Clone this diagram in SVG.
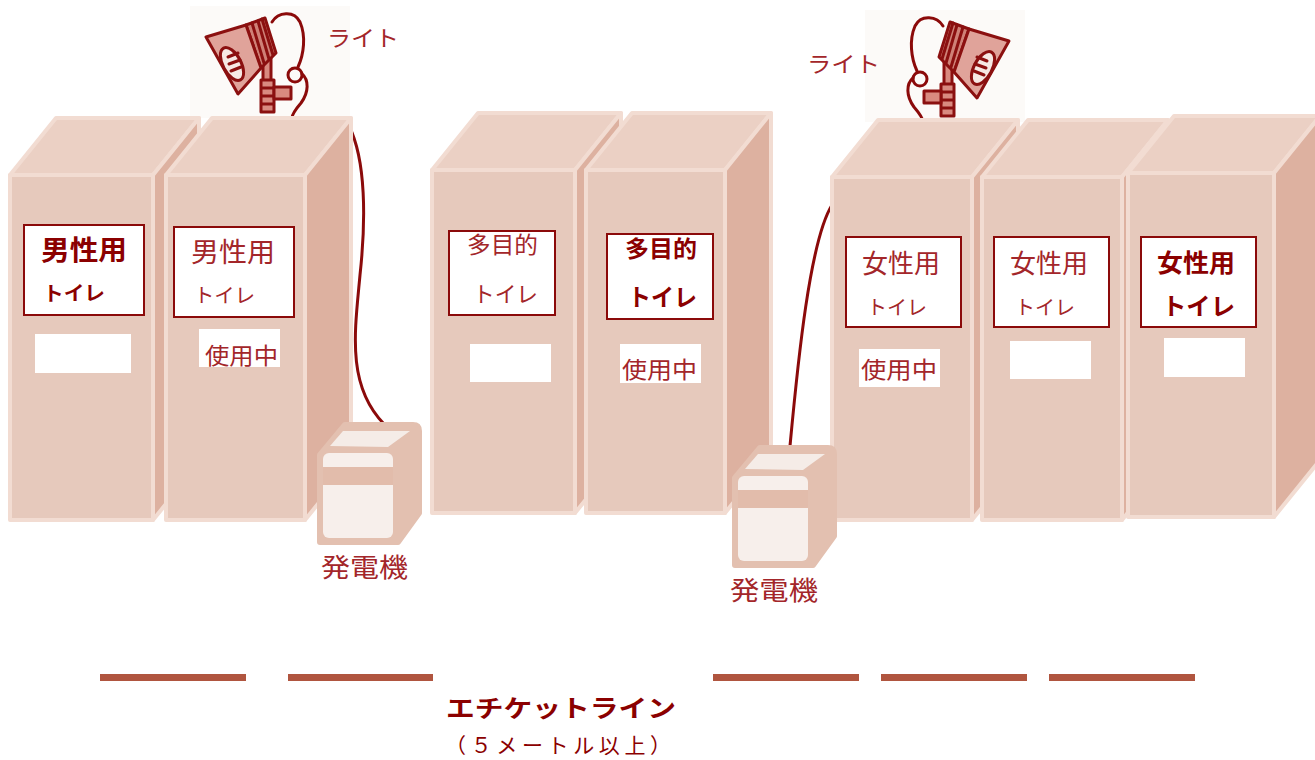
<svg xmlns="http://www.w3.org/2000/svg" width="1315" height="760" viewBox="0 0 1315 760">
  <style>
    .face { stroke: #f2dcd2; stroke-width: 4; stroke-linejoin: round; }
    .front { fill: #e6c9bc; }
    .top { fill: #ebd0c4; }
    .side { fill: #ddb1a0; }
    .sign { fill: #ffffff; stroke: #8b0a0a; stroke-width: 2; }
    .blank { fill: #ffffff; }
    .jp { font-family: "Noto Sans CJK JP", "Noto Sans", sans-serif; fill: #8b0000; }
    .thin { fill: #a3262a; font-weight: 400; }
    .dark { fill: #8b0000; font-weight: 400; }
    .bold { font-weight: 700; }
    .cable { fill: none; stroke: #8b0a0a; stroke-width: 3; stroke-linecap: round; }
    .ink { stroke: #8b1010; stroke-width: 3; stroke-linejoin: round; stroke-linecap: round; }
    .etq { fill: #b0553f; }
    .genbody { fill: #e3c0b0; stroke: #e3c0b0; stroke-width: 6; stroke-linejoin: round; }
  </style>
  <defs>
    <!-- desk lamp with clamp and cord -->
    <g id="lamp">
      <rect x="190" y="6" width="160" height="112" fill="#fcfaf8"/>
      <path class="cable" d="M 272 22 C 278 12 294 10 300 22 C 306 36 304 54 298 67"/>
      <circle cx="295" cy="75" r="7" class="cable"/>
      <path class="cable" d="M 302 74 C 309 80 309 92 301 103 C 295 110 292 114 292 118"/>
      <!-- stem -->
      <rect class="ink" x="263" y="58" width="8" height="24" fill="#d98a80"/>
      <rect class="ink" x="261" y="80" width="13" height="32" fill="#d98a80"/>
      <path class="ink" d="M 262 88 L 273 88 M 262 96 L 273 96 M 262 104 L 273 104" fill="none"/>
      <!-- clamp -->
      <rect class="ink" x="274" y="87" width="17" height="12" fill="#d98a80"/>
      <!-- shade back with ribs -->
      <polygon class="ink" points="246,25 265,18 276,53 261,68" fill="#cf8177"/>
      <path class="ink" d="M 252 23 L 264 63 M 258 21 L 269 59 M 262 19 L 273 55" fill="none" stroke-width="2"/>
      <!-- shade -->
      <polygon class="ink" points="206,37 246,25 261,68 238,94" fill="#e0a39a"/>
      <!-- bulb -->
      <ellipse class="ink" cx="232" cy="64" rx="9" ry="18" transform="rotate(-28 232 64)" fill="#f6e8e3"/>
      <path class="ink" d="M 228 57 L 238 53 M 229 64 L 240 60 M 231 71 L 241 67" fill="none" stroke-width="2"/>
    </g>
    <!-- portable generator -->
    <g id="generator">
      <path class="genbody" d="M 320 455 L 345 425 L 413 425 Q 419 425 419 431 L 419 513 L 398 542 L 320 542 Z"/>
      <polygon points="330,446 343,431 410,431 388,447" fill="#f5ece7"/>
      <rect x="323" y="453" width="70" height="85" rx="6" fill="#f7efeb"/>
      <rect x="323" y="467" width="70" height="18" fill="#e2bcab"/>
    </g>
  </defs>

  <!-- lights -->
  <g id="light-1">
    <use href="#lamp"/>
    <text class="jp thin" x="327" y="46" font-size="22" textLength="72" lengthAdjust="spacingAndGlyphs">ライト</text>
  </g>
  <g id="light-2">
    <use href="#lamp" transform="translate(1215 4) scale(-1 1)"/>
    <text class="jp thin" x="807" y="72" font-size="22" textLength="73" lengthAdjust="spacingAndGlyphs">ライト</text>
  </g>

  <!-- power cables from generators to lights -->
  <g id="connectors">
    <path class="cable" d="M 349 126 C 366 160 366 220 360 275 C 355 330 346 385 384 424"/>
    <path class="cable" d="M 790 446 C 798 360 810 240 832 205"/>
  </g>

  <!-- toilet booths -->
  <g id="booth-male-1">
    <polygon class="face top" points="10,175 56,118 199,118 153,175"/>
    <polygon class="face side" points="153,175 199,118 199,463 153,520"/>
    <rect class="face front" x="10" y="175" width="143" height="345"/>
    <rect class="sign" x="24" y="225" width="120" height="90"/>
    <text class="jp bold" x="41" y="260" font-size="27" textLength="86" lengthAdjust="spacingAndGlyphs">男性用</text>
    <text class="jp bold" x="43" y="301" font-size="20" textLength="62" lengthAdjust="spacingAndGlyphs">トイレ</text>
    <rect class="blank" x="35" y="334" width="96" height="39"/>
  </g>
  <g id="booth-male-2">
    <polygon class="face top" points="166,175 212,118 351,118 305,175"/>
    <polygon class="face side" points="305,175 351,118 351,463 305,520"/>
    <rect class="face front" x="166" y="175" width="139" height="345"/>
    <rect class="sign" x="174" y="227" width="120" height="90"/>
    <text class="jp thin" x="191" y="262" font-size="27" textLength="84" lengthAdjust="spacingAndGlyphs">男性用</text>
    <text class="jp thin" x="194" y="303" font-size="20" textLength="61" lengthAdjust="spacingAndGlyphs">トイレ</text>
    <rect class="blank" x="199" y="329" width="81" height="38"/>
    <text class="jp thin" x="205" y="364" font-size="23" textLength="73" lengthAdjust="spacingAndGlyphs">使用中</text>
  </g>
  <g id="booth-multi-1">
    <polygon class="face top" points="432,170 478,113 621,113 575,170"/>
    <polygon class="face side" points="575,170 621,113 621,456 575,513"/>
    <rect class="face front" x="432" y="170" width="143" height="343"/>
    <rect class="sign" x="449" y="231" width="106" height="84"/>
    <text class="jp thin" x="467" y="253" font-size="23" textLength="71" lengthAdjust="spacingAndGlyphs">多目的</text>
    <text class="jp thin" x="473" y="302" font-size="22" textLength="65" lengthAdjust="spacingAndGlyphs">トイレ</text>
    <rect class="blank" x="470" y="344" width="81" height="38"/>
  </g>
  <g id="booth-multi-2">
    <polygon class="face top" points="586,170 632,113 771,113 725,170"/>
    <polygon class="face side" points="725,170 771,113 771,456 725,513"/>
    <rect class="face front" x="586" y="170" width="139" height="343"/>
    <rect class="sign" x="607" y="234" width="106" height="85"/>
    <text class="jp bold" x="625" y="257" font-size="23" textLength="72" lengthAdjust="spacingAndGlyphs">多目的</text>
    <text class="jp bold" x="628" y="306" font-size="24" textLength="69" lengthAdjust="spacingAndGlyphs">トイレ</text>
    <rect class="blank" x="620" y="344" width="81" height="39"/>
    <text class="jp thin" x="622" y="378" font-size="23" textLength="75" lengthAdjust="spacingAndGlyphs">使用中</text>
  </g>
  <g id="booth-female-1">
    <polygon class="face top" points="832,177 878,120 1018,120 972,177"/>
    <polygon class="face side" points="972,177 1018,120 1018,463 972,520"/>
    <rect class="face front" x="832" y="177" width="140" height="343"/>
    <rect class="sign" x="846" y="237" width="115" height="90"/>
    <text class="jp thin" x="862" y="273" font-size="26" textLength="78" lengthAdjust="spacingAndGlyphs">女性用</text>
    <text class="jp thin" x="867" y="315" font-size="20" textLength="60" lengthAdjust="spacingAndGlyphs">トイレ</text>
    <rect class="blank" x="859" y="349" width="81" height="38"/>
    <text class="jp thin" x="861" y="378" font-size="23" textLength="76" lengthAdjust="spacingAndGlyphs">使用中</text>
  </g>
  <g id="booth-female-2">
    <polygon class="face top" points="982,177 1028,120 1168,120 1122,177"/>
    <polygon class="face side" points="1122,177 1168,120 1168,463 1122,520"/>
    <rect class="face front" x="982" y="177" width="140" height="343"/>
    <rect class="sign" x="994" y="237" width="115" height="90"/>
    <text class="jp thin" x="1010" y="273" font-size="26" textLength="78" lengthAdjust="spacingAndGlyphs">女性用</text>
    <text class="jp thin" x="1015" y="315" font-size="20" textLength="60" lengthAdjust="spacingAndGlyphs">トイレ</text>
    <rect class="blank" x="1010" y="341" width="81" height="38"/>
  </g>
  <g id="booth-female-3">
    <polygon class="face top" points="1128,173 1174,116 1320,116 1274,173"/>
    <polygon class="face side" points="1274,173 1320,116 1320,460 1274,517"/>
    <rect class="face front" x="1128" y="173" width="146" height="344"/>
    <rect class="sign" x="1141" y="237" width="115" height="90"/>
    <text class="jp bold" x="1157" y="272" font-size="25" textLength="78" lengthAdjust="spacingAndGlyphs">女性用</text>
    <text class="jp bold" x="1162" y="315" font-size="24" textLength="73" lengthAdjust="spacingAndGlyphs">トイレ</text>
    <rect class="blank" x="1164" y="338" width="81" height="39"/>
  </g>

  <!-- generators -->
  <g id="generator-1">
    <use href="#generator"/>
    <text class="jp thin" x="321" y="577" font-size="26" textLength="87" lengthAdjust="spacingAndGlyphs">発電機</text>
  </g>
  <g id="generator-2">
    <use href="#generator" transform="translate(415 23)"/>
    <text class="jp thin" x="730" y="600" font-size="26" textLength="88" lengthAdjust="spacingAndGlyphs">発電機</text>
  </g>

  <!-- etiquette line -->
  <g id="etiquette-line">
    <rect class="etq" x="100" y="674" width="146" height="7"/>
    <rect class="etq" x="288" y="674" width="145" height="7"/>
    <rect class="etq" x="713" y="674" width="146" height="7"/>
    <rect class="etq" x="881" y="674" width="146" height="7"/>
    <rect class="etq" x="1049" y="674" width="146" height="7"/>
    <text class="jp bold" x="446" y="717" font-size="24" textLength="230" lengthAdjust="spacingAndGlyphs">エチケットライン</text>
    <text class="jp dark" x="445" y="753" font-size="21" textLength="226" lengthAdjust="spacing">（５メートル以上）</text>
  </g>
</svg>
